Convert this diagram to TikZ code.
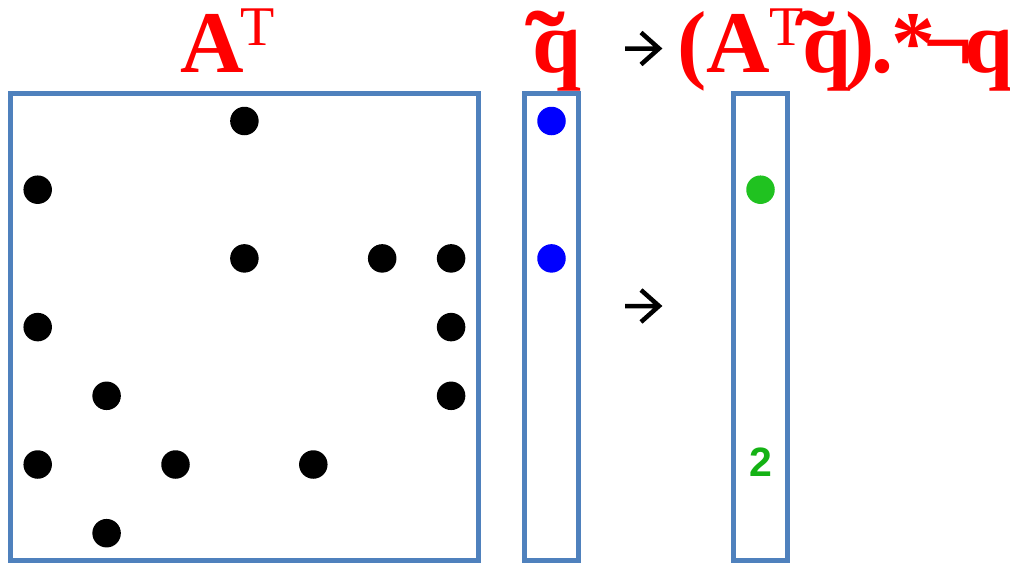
\documentclass[tikz,border=0pt]{standalone}
\usepackage{fontspec}
\setmainfont{Liberation Serif}
\newfontfamily\arialfont{Liberation Sans}
\usepackage{graphicx}
\definecolor{boxblue}{RGB}{79,129,189}
\definecolor{dotgreen}{RGB}{32,194,32}
\definecolor{numgreen}{RGB}{20,178,20}
\definecolor{txtred}{RGB}{255,0,0}
\newcommand{\mysupT}{\raisebox{27pt}{\fontsize{56}{56}\selectfont\mdseries T}}
\newcommand{\qtil}{\makebox[0pt][l]{\kern-7pt\smash{\raisebox{-12pt}{\scalebox{1.35}[1.2]{\char"02DC}}}}q}
\tikzset{
  mat/.style={draw=boxblue, line width=5pt, inner sep=0pt},
  dot/.style={circle, fill=black, inner sep=0pt, minimum size=28.5pt},
  bdot/.style={dot, fill=blue},
  gdot/.style={dot, fill=dotgreen},
  title/.style={anchor=base west, inner sep=0pt, text=txtred, font=\fontsize{88}{90}\selectfont\bfseries},
  arr/.style={draw=black, line width=4.5pt, miter limit=10}
}
\begin{document}
\begin{tikzpicture}[x=1pt,y=-1pt]
\useasboundingbox (0,0) rectangle (1010,563);
% boxes
\node[mat, minimum width=468.5pt, minimum height=467pt] (AT) at (244.25,327) {};
\node[mat, minimum width=54pt, minimum height=467pt] (q) at (551.5,327) {};
\node[mat, minimum width=54pt, minimum height=467pt] (r) at (760,327) {};
% titles
\node[title] (tA) at (180,72) {A\kern-3pt\mysupT};
\node[title] (tq) at (532,72) {\qtil};
\node[title] (tr) at (677,72) {(A\kern-1pt\mysupT\kern-1pt\qtil\kern-6pt)\kern-3pt.\kern-2pt*\kern-12pt¬\kern-9pt q};
% dots of A^T
\foreach \c/\r [count=\i] in {4/1, 1/2, 4/3, 6/3, 7/3, 1/4, 7/4, 2/5, 7/5, 1/6, 3/6, 5/6, 2/7}
  \node[dot] (d\i) at ({37.7+68.9*(\c-1)},{121+68.7*(\r-1)}) {};
% q dots
\node[bdot] (q1) at (551.5,121) {};
\node[bdot] (q3) at (551.5,258.4) {};
% result
\node[gdot] (r2) at (760.5,189.7) {};
\node[inner sep=0pt, text=numgreen, font=\arialfont\bfseries\fontsize{41}{41}\selectfont] (r6) at (760.5,462.5) {2};
% arrows
\coordinate (a1s) at (625,48.5);
\coordinate (a1e) at (659,48.5);
\coordinate (a2s) at (625,306);
\coordinate (a2e) at (659,306);
\draw[arr] (a1s) -- (a1e) (a1e) ++(-18,-16) -- (a1e) -- ++(-18,16);
\draw[arr] (a2s) -- (a2e) (a2e) ++(-18,-16) -- (a2e) -- ++(-18,16);
\end{tikzpicture}
\end{document}
